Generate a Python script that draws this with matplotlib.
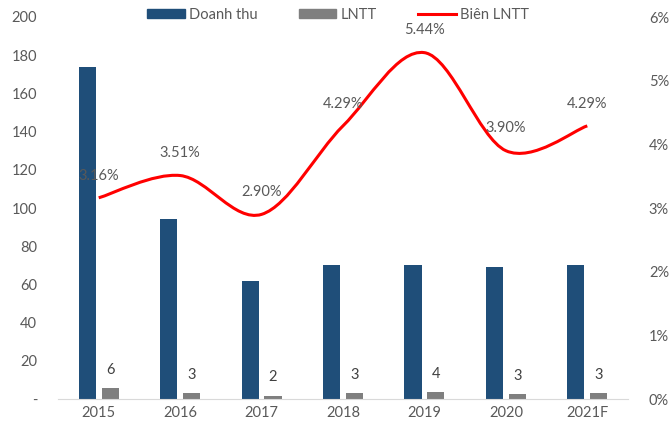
import matplotlib
matplotlib.use('Agg')
import matplotlib.pyplot as plt
import numpy as np
from matplotlib.path import Path
from matplotlib.patches import PathPatch
from matplotlib.lines import Line2D
from matplotlib.patches import Patch

plt.rcParams['font.family'] = ['Lato', 'DejaVu Sans']

years = ['2015', '2016', '2017', '2018', '2019', '2020', '2021F']
doanh_thu = [174, 94, 62, 70, 70, 69, 70]
lntt = [5.5, 3.2, 1.8, 3.0, 3.8, 2.7, 3.0]
lntt_labels = ['6', '3', '2', '3', '4', '3', '3']
bien_lntt = [3.16, 3.51, 2.90, 4.29, 5.44, 3.90, 4.29]

BLUE = '#1F4E79'
GRAY = '#7F7F7F'
RED = '#FF0000'
TXT = '#595959'

fig = plt.figure(figsize=(6.7, 4.23), dpi=100)
ax = fig.add_axes([58/670, 24/423, 570/670, 382/423])
ax2 = ax.twinx()

x = np.arange(len(years))
w = 0.21
ax.bar(x - 0.14, doanh_thu, width=w, color=BLUE, zorder=2)
ax.bar(x + 0.14, lntt, width=w, color=GRAY, zorder=2)
for xi, v, lab in zip(x, lntt, lntt_labels):
    ax.annotate(lab, (xi + 0.14, v), xytext=(0, 8), textcoords='offset points',
                ha='center', va='bottom', fontsize=10.5, color='#404040')

ax.set_xlim(-0.5, len(years) - 0.5)
ax.set_ylim(0, 200)
ax.set_yticks(range(0, 201, 20))
ax.set_yticklabels(['-'] + [str(v) for v in range(20, 201, 20)])
ax.set_xticks(x)
ax.set_xticklabels(years)
ax.tick_params(axis='both', length=0, colors=TXT, labelsize=10.5)
ax.tick_params(axis='x', pad=5)
ax.tick_params(axis='y', pad=15)
for s in ['top', 'right', 'left']:
    ax.spines[s].set_visible(False)
ax.spines['bottom'].set_color('#D9D9D9')

# smoothed line (Excel-style bezier through the points)
pts = list(zip(x, bien_lntt))
verts = [pts[0]]
codes = [Path.MOVETO]
n = len(pts)
for i in range(n - 1):
    p0 = np.array(pts[max(i - 1, 0)], float)
    p1 = np.array(pts[i], float)
    p2 = np.array(pts[i + 1], float)
    p3 = np.array(pts[min(i + 2, n - 1)], float)
    c1 = p1 + (p2 - p0) / 6
    c2 = p2 - (p3 - p1) / 6
    verts += [tuple(c1), tuple(c2), tuple(p2)]
    codes += [Path.CURVE4] * 3
ax2.add_patch(PathPatch(Path(verts, codes), fill=False, edgecolor=RED, lw=2.2, zorder=3))
for xi, v in zip(x, bien_lntt):
    ax2.annotate('%.2f%%' % v, (xi, v), xytext=(0, 11), textcoords='offset points',
                 ha='center', va='bottom', fontsize=10.5, color=TXT)

ax2.set_ylim(0, 6)
ax2.set_yticks(range(0, 7))
ax2.set_yticklabels(['%d%%' % v for v in range(0, 7)])
ax2.tick_params(axis='y', length=0, colors=TXT, labelsize=10.5, pad=15)
for s in ['top', 'right', 'left', 'bottom']:
    ax2.spines[s].set_visible(False)

handles = [Patch(color=BLUE), Patch(color=GRAY), Line2D([], [], color=RED, lw=2.2)]
fig.legend(handles, ['Doanh thu', 'LNTT', 'Biên LNTT'], loc='center',
           bbox_to_anchor=(338/670, 1 - 15/423), ncol=3, frameon=False,
           fontsize=10.5, labelcolor=TXT, columnspacing=2.8, handlelength=2.6,
           handletextpad=0.3, handleheight=0.6)

fig.savefig('out.png', dpi=100)
